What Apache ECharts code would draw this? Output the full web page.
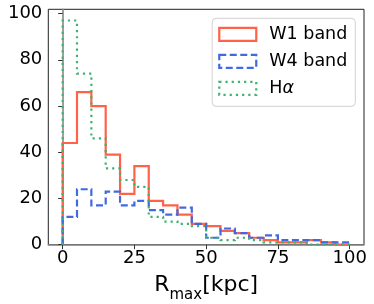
<!DOCTYPE html>
<html>
<head>
<meta charset="utf-8">
<script src="https://cdn.jsdelivr.net/npm/echarts@6/dist/echarts.min.js"></script>
<style>
html,body{margin:0;padding:0;background:#fff;}
#chart{width:374px;height:304px;}
</style>
</head>
<body>
<div id="chart"></div>
<script>
// Histogram bin edges (kpc)
const binEdges = [0,5,10,15,20,25,30,35,40,45,50,55,60,65,70,75,80,85,90,95,100];
// Counts per bin
const w1Counts = [44,66,60,39,22,34,19,17,13,9,8,6,5,3,2,1,1,2,1,0];
const w4Counts = [12,24,17,23,17,19,15,13,16,9,3,7,5,3,4,2,2,2,1,1];
const haCounts = [97,74,46,33,28,25,12,10,9,8,3,2,3,2,1,1,1,0,0,0];
const seriesNames = ['W1 band','W4 band','Hα'];
const xTicks = [0,25,50,75,100];
const yTicks = [0,20,40,60,80,100];

function stepPoints(counts){
  const pts = [[binEdges[0],0]];
  for(let i=0;i<counts.length;i++){
    pts.push([binEdges[i],counts[i]]);
    pts.push([binEdges[i+1],counts[i]]);
  }
  pts.push([binEdges[binEdges.length-1],0]);
  return pts;
}

const FONT = 'DejaVu Sans';
const chart = echarts.init(document.getElementById('chart'), null, {renderer:'canvas'});
const colors = ['#FF6347','#4169E1','#3CB371'];
const dashes = ['solid',[7,3.5],[2.2,4]];
const allCounts = [w1Counts,w4Counts,haCounts];

chart.setOption({
  animation:false,
  backgroundColor:'#fff',
  grid:{left:48.3,right:10,top:9.3,bottom:59.3,containLabel:false,outerBoundsMode:'none',
    show:true,borderColor:'#222',borderWidth:1,backgroundColor:'transparent'},
  legend:{
    orient:'vertical',
    right:18.7, top:18.3,
    itemWidth:37, itemHeight:13, itemGap:9,
    padding:[7,8,9,6],
    borderColor:'#d0d0d0', borderWidth:1, borderRadius:4,
    backgroundColor:'rgba(255,255,255,0.8)',
    textStyle:{fontFamily:FONT,fontSize:17.5,color:'#000',lineHeight:18,padding:[0,0,0,8],
      rich:{i:{fontFamily:FONT,fontSize:17.5,fontStyle:'italic',color:'#000'}}},
    formatter:function(n){ return n==='Hα' ? 'H{i|α}' : n; },
    data:seriesNames.map((n,i)=>({name:n,icon:'rect',
      itemStyle:{color:'transparent',borderColor:colors[i],borderWidth:2.2,borderType:dashes[i]}}))
  },
  xAxis:{
    type:'value', min:-5, max:105,
    name:'{a|R}{b|max}{a|[kpc]}',
    nameLocation:'middle', nameGap:28,
    nameTextStyle:{rich:{
      a:{fontFamily:FONT,fontSize:22,color:'#000',lineHeight:26,verticalAlign:'middle'},
      b:{fontFamily:FONT,fontSize:15,color:'#000',lineHeight:26,verticalAlign:'bottom',padding:[0,0,-4,0]}
    }},
    axisLine:{show:true,onZero:false,lineStyle:{color:'#888',width:1.6}},
    axisTick:{show:true,length:4.5,inside:false,customValues:xTicks,lineStyle:{color:'#333',width:1}},
    axisLabel:{customValues:xTicks,margin:5,fontFamily:FONT,fontSize:18,color:'#000'},
    splitLine:{show:false}
  },
  yAxis:{
    type:'value', min:0, max:101.85,
    axisLine:{show:true,lineStyle:{color:'#888',width:1.6}},
    axisTick:{show:true,length:4.5,customValues:yTicks,lineStyle:{color:'#333',width:1}},
    axisLabel:{customValues:yTicks,margin:6,fontFamily:FONT,fontSize:18,color:'#000'},
    splitLine:{show:false}
  },
  series:seriesNames.map((n,i)=>({
    name:n, type:'line', data:stepPoints(allCounts[i]),
    showSymbol:false, symbol:'none', clip:true,
    itemStyle:{color:colors[i]},
    lineStyle:{color:colors[i],width:2.2,type:dashes[i],cap:'butt',join:'miter'},
    z:2+i
  }))
});
</script>
</body>
</html>
